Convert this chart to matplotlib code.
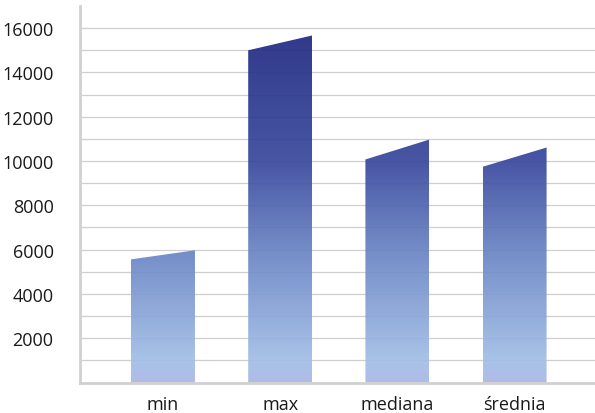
import matplotlib
matplotlib.use("Agg")
import matplotlib.pyplot as plt
import numpy as np
from matplotlib.colors import LinearSegmentedColormap
from matplotlib.patches import Polygon

# Data
categories = ["min", "max", "mediana", "średnia"]
top_left = [5560, 15000, 10070, 9740]     # height at left edge of bar top
top_right = [5970, 15670, 10970, 10610]   # height at right edge of bar top
y_ticks = [2000, 4000, 6000, 8000, 10000, 12000, 14000, 16000]
grid_values = list(range(1000, 17000, 1000))

plt.rcParams['font.family'] = ['Open Sans', 'DejaVu Sans']

fig = plt.figure(figsize=(5.95, 4.14), dpi=100)
ax = fig.add_axes([80/595, (414-383.5)/414, 1 - 80/595, (383.5-7)/414])

ymax = 17000

# gridlines
for g in grid_values:
    ax.axhline(g, color="#cfcfcf", lw=0.9, zorder=1)

cmap = LinearSegmentedColormap.from_list(
    "bars",
    [(0.0, "#abb7e6"), (1000/16000, "#a3bfe7"), (6000/16000, "#6a85c4"),
     (10000/16000, "#3b4a9e"), (1.0, "#222b82")])

grad = np.linspace(0, 1, 512).reshape(-1, 1)
width = 0.546
for i, (l, r) in enumerate(zip(top_left, top_right)):
    x0, x1 = i - width/2, i + width/2
    poly = Polygon([(x0, 0), (x0, l), (x1, r), (x1, 0)], closed=True,
                   facecolor="none", edgecolor="none")
    ax.add_patch(poly)
    im = ax.imshow(grad, cmap=cmap, origin="lower", aspect="auto",
                   extent=[x0, x1, 0, 16000], zorder=2, alpha=0.94,
                   interpolation="bilinear")
    im.set_clip_path(poly)

ax.set_xlim(-0.708, 3.686)
ax.set_ylim(0, ymax)

ax.set_yticks(y_ticks)
ax.set_yticklabels([str(v) for v in y_ticks], fontsize=13, color="#1a1a1a")
ax.set_xticks(range(len(categories)))
ax.set_xticklabels(categories, fontsize=13, color="#1a1a1a")
ax.tick_params(axis="y", length=0, pad=19)
ax.tick_params(axis="x", length=0, pad=9)

for s in ["top", "right"]:
    ax.spines[s].set_visible(False)
ax.spines["left"].set_color("#d0d0d0")
ax.spines["left"].set_linewidth(2)
ax.spines["bottom"].set_color("#d0d0d0")
ax.spines["bottom"].set_linewidth(2)

fig.savefig("out.png", dpi=100)
